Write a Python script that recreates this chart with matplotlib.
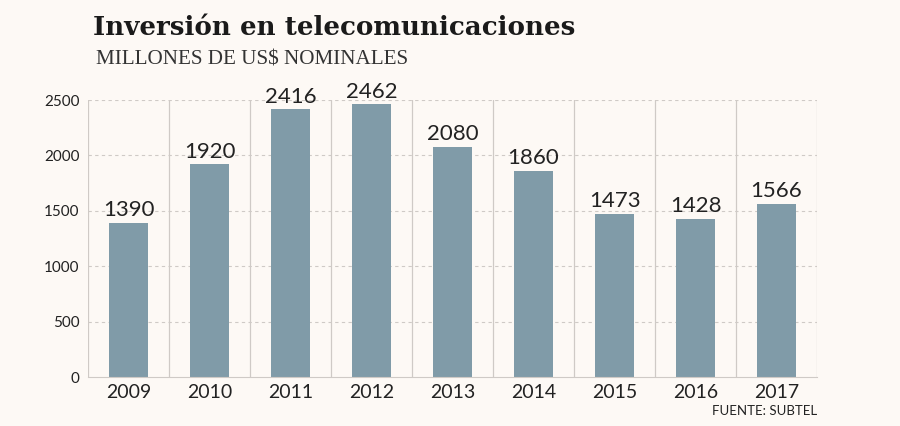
import numpy as np
import matplotlib
matplotlib.use("Agg")
import matplotlib.pyplot as plt

years = ["2009", "2010", "2011", "2012", "2013", "2014", "2015", "2016", "2017"]
inversion = [1390, 1920, 2416, 2462, 2080, 1860, 1473, 1428, 1566]
yticks = [0, 500, 1000, 1500, 2000, 2500]

BG = "#fdf9f5"
BAR = "#809ba8"
GRID = "#cfcac6"

fig = plt.figure(figsize=(9, 4.26), dpi=100, facecolor=BG)
ax = fig.add_axes([0.0978, 0.115, 0.81, 0.650], facecolor=BG)

x = np.arange(len(years))
ax.bar(x, inversion, width=0.49, color=BAR, zorder=2)
for xi, v in zip(x, inversion):
    ax.annotate(str(v), (xi, v), xytext=(0, 2), textcoords="offset points",
                ha="center", va="bottom", fontsize=16, family="Lato",
                color="#222222", annotation_clip=False)

# separadores verticales entre años
for b in np.arange(len(years) + 1) - 0.5:
    ax.axvline(b, color=GRID, lw=0.9, zorder=1)
for t in yticks[1:]:
    ax.axhline(t, color=GRID, lw=0.8, ls=(0, (3, 3)), zorder=1)

ax.set_xlim(-0.5, len(years) - 0.5)
ax.set_ylim(0, 2500)
ax.set_xticks(x)
ax.set_xticklabels(years, fontsize=14, family="Lato", color="#222222")
ax.set_yticks(yticks)
ax.set_yticklabels([str(t) for t in yticks], fontsize=11, family="Lato", color="#222222")
ax.tick_params(length=0, axis="x", pad=5)
ax.tick_params(length=0, axis="y", pad=6)
for s in ["top", "right", "left"]:
    ax.spines[s].set_visible(False)
ax.spines["bottom"].set_color(GRID)

fig.text(0.103, 0.935, "Inversión en telecomunicaciones", fontsize=18.8, weight="bold",
         family="DejaVu Serif", color="#1a1a1a", va="center")
fig.text(0.107, 0.858, "MILLONES DE US$ NOMINALES", fontsize=15.2,
         family="Liberation Serif", color="#333333", va="center")
fig.text(0.908, 0.035, "FUENTE: SUBTEL", fontsize=9.5, family="Lato",
         color="#222222", ha="right", va="center")

fig.savefig("out.png", dpi=100, facecolor=BG)
